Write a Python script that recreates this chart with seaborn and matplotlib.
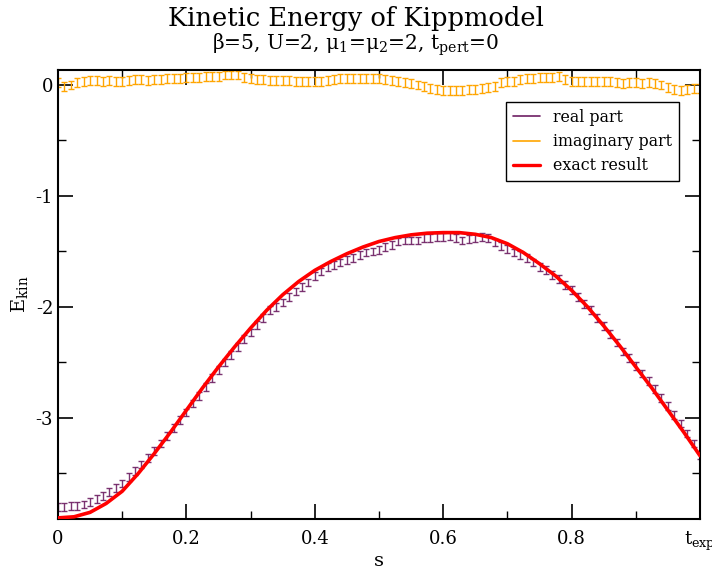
import numpy as np
import pandas as pd
import matplotlib
matplotlib.use("Agg")
import matplotlib.pyplot as plt
from matplotlib.lines import Line2D
import seaborn as sns

# ---- data ----
s_vals = [round(0.01 * i, 2) for i in range(101)]
real_part = [
    -3.80, -3.80, -3.79, -3.79, -3.78, -3.76, -3.73, -3.70, -3.67, -3.63,
    -3.59, -3.53, -3.48, -3.42, -3.36, -3.30, -3.23, -3.16, -3.09, -3.02,
    -2.95, -2.87, -2.80, -2.72, -2.64, -2.57, -2.50, -2.43, -2.36, -2.29,
    -2.23, -2.16, -2.10, -2.03, -2.00, -1.96, -1.91, -1.86, -1.82, -1.78,
    -1.72, -1.68, -1.64, -1.62, -1.60, -1.58, -1.56, -1.53, -1.51, -1.50,
    -1.49, -1.46, -1.44, -1.41, -1.40, -1.40, -1.40, -1.38, -1.38, -1.37,
    -1.37, -1.36, -1.38, -1.40, -1.39, -1.38, -1.37, -1.38, -1.42, -1.45,
    -1.48, -1.51, -1.53, -1.56, -1.60, -1.64, -1.67, -1.71, -1.75, -1.80,
    -1.85, -1.91, -1.97, -2.03, -2.10, -2.17, -2.24, -2.32, -2.40, -2.46,
    -2.53, -2.60, -2.67, -2.74, -2.82, -2.89, -2.97, -3.05, -3.14, -3.23,
    -3.33,
]
real_err = 0.035
imag_part = [
    0.02, -0.01, 0.00, 0.02, 0.03, 0.04, 0.04, 0.03, 0.04, 0.03,
    0.03, 0.04, 0.05, 0.05, 0.04, 0.05, 0.05, 0.06, 0.06, 0.06,
    0.07, 0.07, 0.07, 0.08, 0.08, 0.08, 0.09, 0.09, 0.09, 0.07,
    0.06, 0.05, 0.05, 0.04, 0.04, 0.04, 0.04, 0.03, 0.03, 0.03,
    0.03, 0.03, 0.04, 0.05, 0.06, 0.06, 0.06, 0.06, 0.06, 0.06,
    0.06, 0.05, 0.04, 0.03, 0.02, 0.01, 0.00, -0.01, -0.03, -0.04,
    -0.05, -0.05, -0.05, -0.05, -0.04, -0.04, -0.03, -0.02, -0.01, 0.02,
    0.03, 0.03, 0.05, 0.06, 0.06, 0.07, 0.07, 0.07, 0.08, 0.05,
    0.03, 0.03, 0.03, 0.03, 0.03, 0.03, 0.03, 0.02, 0.01, 0.02,
    0.02, 0.01, 0.02, 0.01, 0.00, -0.02, -0.04, -0.05, -0.04, -0.03,
    -0.03,
]
imag_err = 0.04

s_exact = [round(0.025 * i, 3) for i in range(41)]
exact_result = [
    -3.90, -3.89, -3.85, -3.77, -3.66, -3.50, -3.32, -3.13, -2.93, -2.73,
    -2.54, -2.36, -2.19, -2.03, -1.89, -1.77, -1.67, -1.59, -1.52, -1.46,
    -1.41, -1.375, -1.35, -1.335, -1.33, -1.33, -1.345, -1.375, -1.43, -1.51,
    -1.61, -1.72, -1.85, -2.00, -2.17, -2.35, -2.54, -2.73, -2.93, -3.13,
    -3.34,
]

x_tick_vals = [0, 0.2, 0.4, 0.6, 0.8, 1.0]
x_tick_labels = ["0", "0.2", "0.4", "0.6", "0.8", r"t$_{\mathregular{exp}}$"]
y_tick_vals = [0, -1, -2, -3]
y_tick_labels = ["0", "-1", "-2", "-3"]

# ---- style ----
sns.set_theme(style="ticks")
plt.rcParams["font.family"] = ["DejaVu Serif"]
plt.rcParams["mathtext.fontset"] = "dejavuserif"
plt.rcParams["text.color"] = "black"
plt.rcParams["axes.labelcolor"] = "black"
plt.rcParams["xtick.color"] = "black"
plt.rcParams["ytick.color"] = "black"

fig = plt.figure(figsize=(7.12, 5.69), dpi=100)
ax = fig.add_axes([58 / 712, 1 - 519 / 569, 642 / 712, 449 / 569])

col_real = "#6e1f63"
col_imag = "#ffa500"
col_exact = "#ff0000"

ax.errorbar(s_vals, real_part, yerr=real_err, fmt="none", ecolor=col_real,
            elinewidth=1.0, capsize=2.2, capthick=1.0, alpha=0.9, zorder=2)
ax.errorbar(s_vals, imag_part, yerr=imag_err, fmt="none", ecolor=col_imag,
            elinewidth=1.0, capsize=2.2, capthick=1.0, zorder=2)

df_exact = pd.DataFrame({"s": s_exact, "E": exact_result})
sns.lineplot(data=df_exact, x="s", y="E", ax=ax, color=col_exact,
             linewidth=2.6, zorder=3)

ax.set_xlim(0, 1.0)
ax.set_ylim(-3.91, 0.135)
ax.set_xticks(x_tick_vals)
ax.set_xticklabels(x_tick_labels)
ax.set_yticks(y_tick_vals)
ax.set_yticklabels(y_tick_labels)
ax.set_xticks([0.1, 0.3, 0.5, 0.7, 0.9], minor=True)
ax.set_yticks([-0.5, -1.5, -2.5, -3.5], minor=True)
ax.tick_params(which="both", direction="in", top=True, right=True,
               labelsize=13, color="black", labelcolor="black")
ax.tick_params(which="major", length=11, width=1.2)
ax.tick_params(which="minor", length=6, width=1.0)
ax.tick_params(axis="x", pad=8)
for sp in ax.spines.values():
    sp.set_linewidth(1.5)
    sp.set_color("black")

ax.set_xlabel("s", fontsize=14, labelpad=-1)
ax.set_ylabel(r"E$_{\mathregular{kin}}$", fontsize=14, labelpad=4)

fig.text(0.5, 0.968, "Kinetic Energy of Kippmodel", ha="center", va="center",
         fontsize=18.5)
fig.text(0.5, 0.921,
         r"β=5, U=2, μ$_{\mathregular{1}}$=μ$_{\mathregular{2}}$=2, t$_{\mathregular{pert}}$=0",
         ha="center", va="center", fontsize=14.5)

handles = [
    Line2D([], [], color=col_real, lw=1.2),
    Line2D([], [], color=col_imag, lw=1.2),
    Line2D([], [], color=col_exact, lw=2.4),
]
leg = ax.legend(handles, ["real part", "imaginary part", "exact result"],
                loc="upper right", bbox_to_anchor=(0.967, 0.929),
                borderaxespad=0, fontsize=11.4, frameon=True, fancybox=False,
                framealpha=1, edgecolor="black", handlelength=1.7,
                borderpad=0.45, labelspacing=0.45, handletextpad=0.8)
leg.get_frame().set_linewidth(1.0)

fig.savefig("out.png", dpi=100)
